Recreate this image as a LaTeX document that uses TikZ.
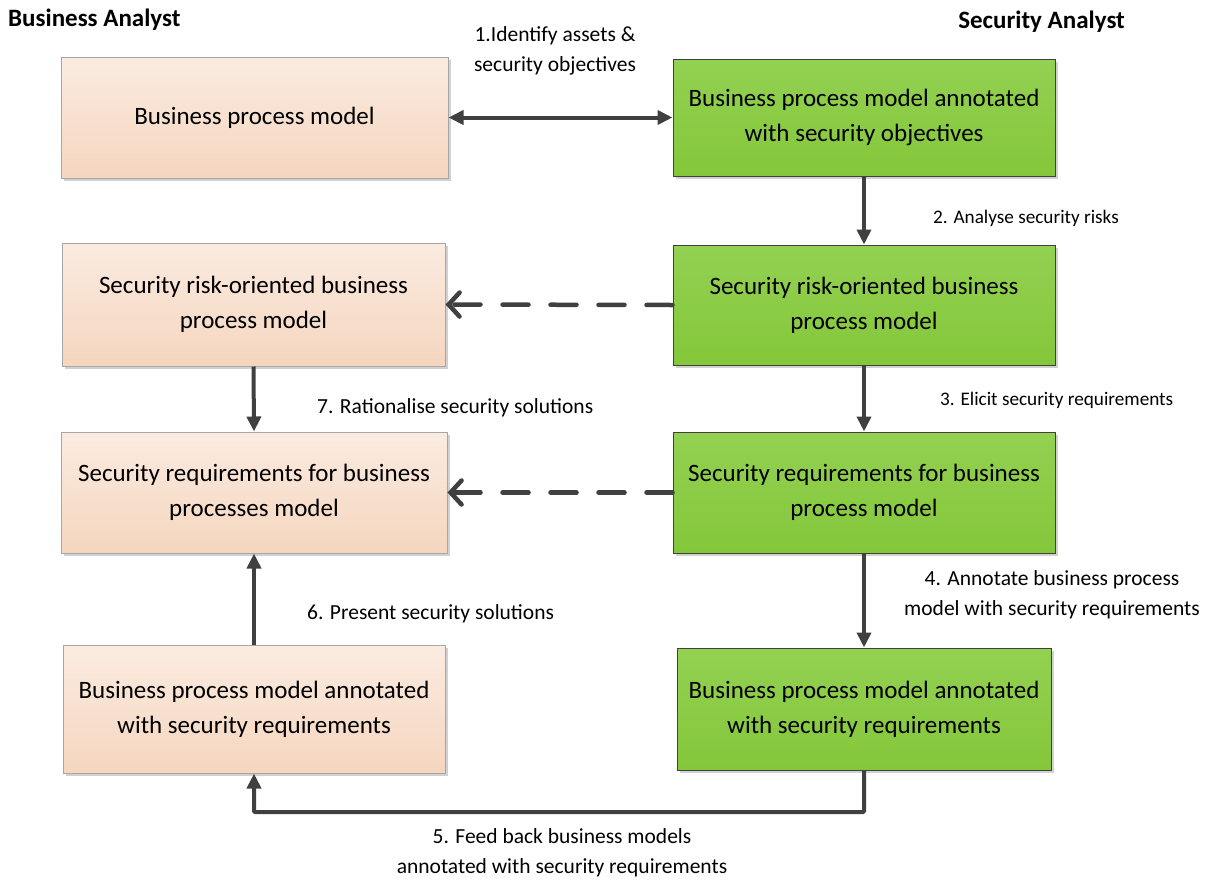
\documentclass[tikz,border=0pt]{standalone}
\usepackage{fontspec}
\setmainfont{Carlito}
\usetikzlibrary{arrows.meta,shadows}
\definecolor{lineGray}{HTML}{404040}
\definecolor{peachTop}{HTML}{FBEBE0}
\definecolor{peachBot}{HTML}{F5D6BF}
\definecolor{peachEdge}{HTML}{A6A6A6}
\definecolor{greenTop}{HTML}{93D152}
\definecolor{greenBot}{HTML}{84C73A}
\tikzset{
  box/.style={rectangle, align=center, font=\fontsize{25}{35}\selectfont,
    inner sep=0pt, line width=1pt,
    drop shadow={shadow xshift=2.5pt, shadow yshift=-2.5pt, opacity=0.18, fill=black}},
  bizbox/.style={box, draw=peachEdge, top color=peachTop, bottom color=peachBot},
  secbox/.style={box, draw=lineGray, top color=greenTop, bottom color=greenBot},
  lbl/.style={align=center, font=\fontsize{21.5}{30.5}\selectfont, inner sep=0pt},
  smalllbl/.style={lbl, font=\fontsize{19.2}{30.5}\selectfont},
  role/.style={font=\bfseries\fontsize{25}{28}\selectfont, inner sep=0pt},
  flow/.style={draw=lineGray, line width=4pt, -{Triangle[length=15pt,width=14pt]}},
  twoway/.style={draw=lineGray, line width=4pt,
    {Triangle[length=15pt,width=14pt]}-{Triangle[length=15pt,width=14pt]}},
  backref/.style={draw=lineGray, line width=4.5pt, line cap=round,
    dash pattern=on 26pt off 22pt,
    -{Straight Barb[length=11pt,width=24pt,line cap=round]}},
}
\begin{document}
\begin{tikzpicture}[x=1pt, y=-1pt]
\useasboundingbox (0,0) rectangle (1209,881);

% role headings
\node[role, anchor=west] (baTitle) at (8,20) {Business Analyst};
\node[role, anchor=east] (saTitle) at (1125,22) {Security Analyst};

% business analyst column
\node[bizbox, minimum width=387pt, minimum height=121pt] (b1) at (254.5,117.5) {Business process model};
\node[bizbox, minimum width=383pt, minimum height=123pt] (b2) at (253.5,304.5) {Security risk-oriented business\\process model};
\node[bizbox, minimum width=386pt, minimum height=121pt] (b3) at (254,492.5) {Security requirements for business\\processes model};
\node[bizbox, minimum width=382pt, minimum height=128pt] (b4) at (254,709) {Business process model annotated\\with security requirements};

% security analyst column
\node[secbox, minimum width=382pt, minimum height=117pt] (s1) at (864,117.5) {Business process model annotated\\with security objectives};
\node[secbox, minimum width=382pt, minimum height=120pt] (s2) at (864,305) {Security risk-oriented business\\process model};
\node[secbox, minimum width=382pt, minimum height=121pt] (s3) at (864,492.5) {Security requirements for business\\process model};
\node[secbox, minimum width=374pt, minimum height=122pt] (s4) at (864,709) {Business process model annotated\\with security requirements};

% connectors
\draw[twoway] (b1.east) -- (s1.west);
\draw[flow] (s1.south) -- (s2.north);
\draw[flow] (s2.south) -- (s3.north);
\draw[flow] (s3.south) -- (s4.north);
\draw[flow] (b2.south) -- (b3.north);
\draw[flow] (b4.north) -- (b3.south);
\draw[backref] (s2.west) -- (b2.east);
\draw[backref] (s3.west) -- (b3.east);
\coordinate (loopR) at (864,812);
\draw[flow, rounded corners=1pt] (s4.south) -- (loopR) -| (b4.south);

% step labels
\node[lbl] (l1) at (555,51) {1.Identify assets \&\\security objectives};
\node[smalllbl, anchor=west] (l2) at (933,218) {2. Analyse security risks};
\node[smalllbl, anchor=west] (l3) at (940,400) {3. Elicit security requirements};
\node[lbl] (l4) at (1052,595) {4. Annotate business process\\model with security requirements};
\node[lbl] (l5) at (562,853) {5. Feed back business models\\annotated with security requirements};
\node[lbl, anchor=west] (l6) at (307,614) {6. Present security solutions};
\node[lbl, anchor=west] (l7) at (317,408) {7. Rationalise security solutions};
\end{tikzpicture}
\end{document}
